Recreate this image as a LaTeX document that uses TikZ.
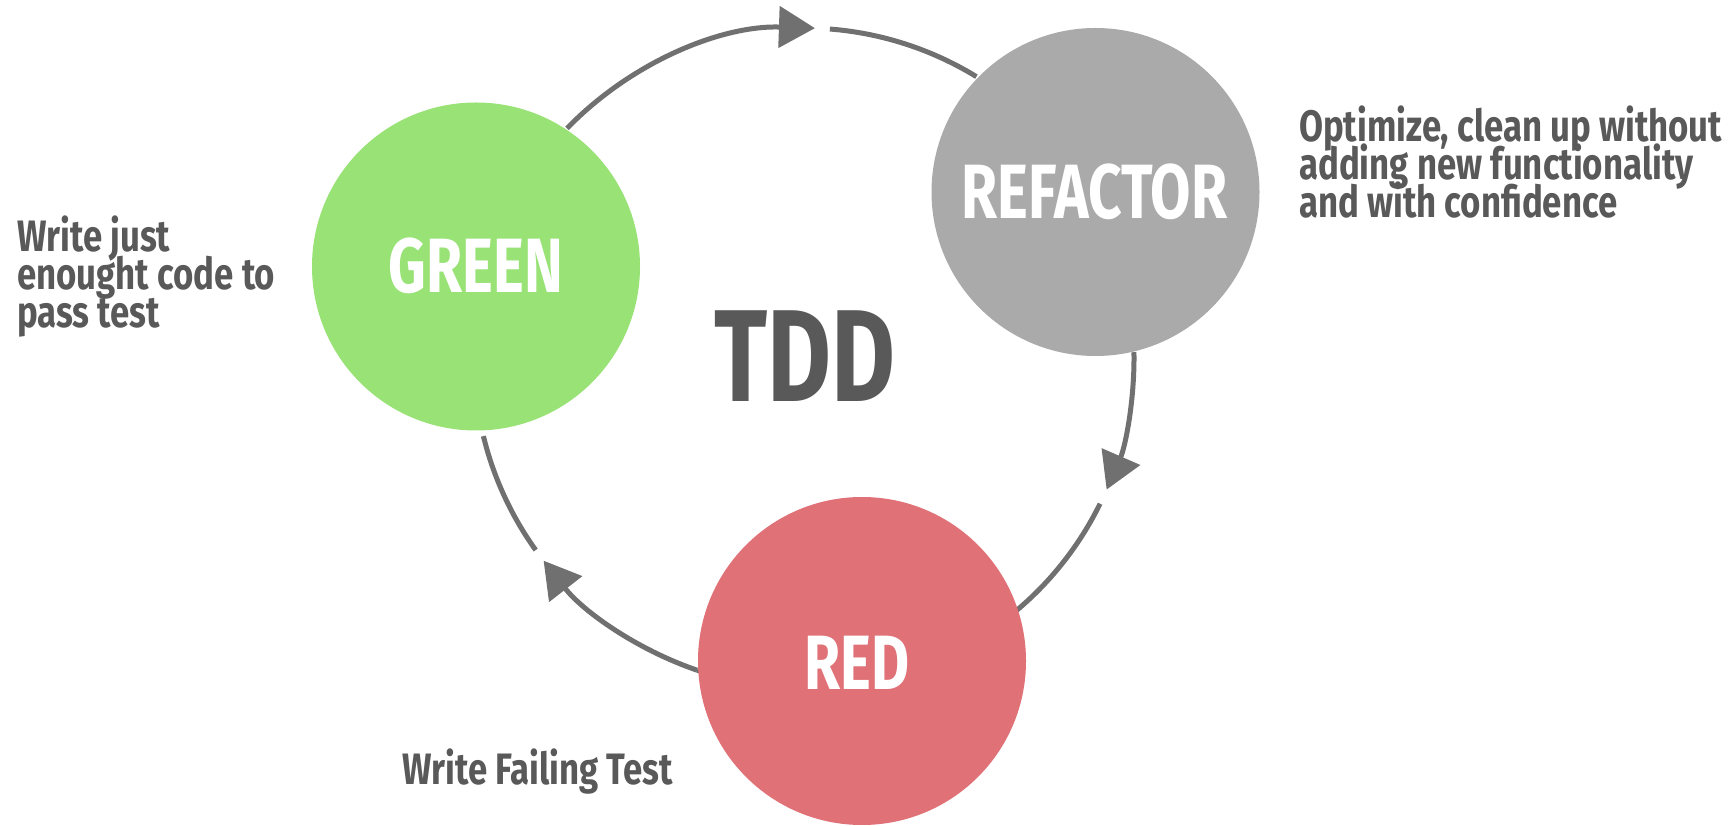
\documentclass[tikz,border=0pt]{standalone}
\usepackage{fontspec}
\newfontfamily\labelfont{Fira Sans}[FakeStretch=0.76]
\newfontfamily\titlefont{Fira Sans}[FakeStretch=0.75]
\newfontfamily\notefont{Fira Sans}[FakeStretch=0.79]
\usetikzlibrary{arrows.meta,calc}

\definecolor{greenfill}{HTML}{98E276}
\definecolor{greyfill}{HTML}{AAAAAA}
\definecolor{redfill}{HTML}{E07177}
\definecolor{cycleline}{HTML}{707070}
\definecolor{labeltext}{HTML}{595959}

\tikzset{
  phase/.style={circle, minimum size=328pt, inner sep=0pt},
  phasetext/.style={anchor=base, inner sep=0pt, text=white,
    font={\labelfont\bfseries\fontsize{77}{80}\selectfont}},
  note/.style={inner sep=0pt, text=labeltext, align=left,
    font={\notefont\bfseries\fontsize{44}{38}\selectfont\lineskiplimit=-100pt}},
  cyclearc/.style={draw=cycleline, line width=5pt},
  cyclearrow/.style={cyclearc, -{Triangle[length=36pt,width=41pt]}},
}

\begin{document}
\begin{tikzpicture}[x=1pt,y=1pt]
  \useasboundingbox (0,0) rectangle (1729,825);
  \fill[white] (0,0) rectangle (1729,825);

  % centre of the cycle
  \coordinate (c) at (804,467);
  \def\R{330}

  % the cycle: arcs between the phases, with gaps at the arrow tips
  \coordinate (g-out) at ($(c)+(135.9:\R)$);
  \coordinate (r1) at ($(c)+(85.5:\R)$);
  \coordinate (f-out) at ($(c)+(1.0:\R)$);
  \coordinate (r2) at ($(c)+(-26.2:\R)$);
  \coordinate (d-out) at ($(c)+(251.1:\R)$);
  \coordinate (r3) at ($(c)+(215.6:\R)$);

  \draw[cyclearrow] (g-out) arc[start angle=135.9, end angle=88.1, radius=\R];
  \draw[cyclearc]   (r1) arc[start angle=85.5, end angle=58.5, radius=\R];
  \draw[cyclearrow] (f-out) arc[start angle=1.0, end angle=-23.5, radius=\R];
  \draw[cyclearc]   (r2) arc[start angle=-26.2, end angle=-108.9, radius=\R];
  \draw[cyclearrow] (d-out) arc[start angle=251.1, end angle=217.9, radius=\R];
  \draw[cyclearc]   (r3) arc[start angle=215.6, end angle=193.7, radius=\R];

  % phases
  \node[phase, fill=greenfill] (green) at (476,558.5) {};
  \node[phase, fill=greyfill] (refactor) at (1095.5,633) {};
  \node[phase, fill=redfill] (red) at (862,164) {};

  \node[phasetext] (greenlbl) at (476,532) {GREEN};
  \node[phasetext] (refactorlbl) at (1094.5,606) {REFACTOR};
  \node[phasetext] (redlbl) at (857,136) {RED};

  % title
  \node[anchor=base, inner sep=0pt, text=labeltext,
        font={\titlefont\bfseries\fontsize{131}{131}\selectfont}] (tdd) at (805,423) {TDD};

  % descriptions (base anchor sits on the last line)
  \node[note, anchor=base west] (greennote) at (17,497) {Write just\\enought code to\\pass test};
  \node[note, anchor=base west] (refactornote) at (1299,607) {Optimize, clean up without\\adding new functionality\\and with confidence};
  \node[note, anchor=base west] (rednote) at (402,41) {Write Failing Test};
\end{tikzpicture}
\end{document}
